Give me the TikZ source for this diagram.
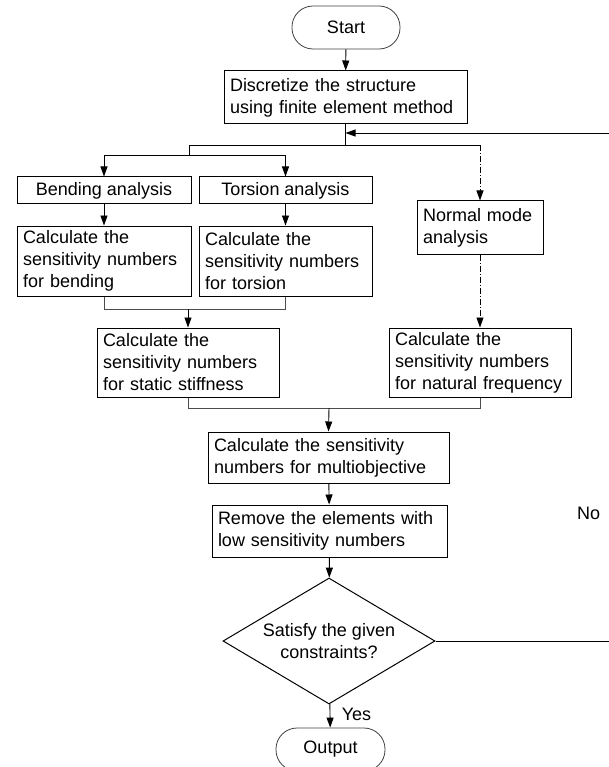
\documentclass[tikz,border=0pt]{standalone}
\usepackage{fontspec}
\setmainfont{Liberation Sans}
\usetikzlibrary{shapes.geometric,arrows.meta,calc}
\begin{document}
\begin{tikzpicture}[x=1pt,y=-1pt,
  every node/.style={font=\fontsize{18}{22}\selectfont},
  box/.style={draw, line width=1pt, inner xsep=6pt, inner ysep=2pt, align=left},
  cbox/.style={draw, line width=1pt, align=center, inner sep=0pt},
  term/.style={draw=black!75, line width=0.8pt, rounded corners=21pt, inner sep=0pt},
  dec/.style={draw, line width=1pt, shape=diamond, aspect=1.68, inner sep=0pt, align=center},
  conn/.style={line width=0.9pt},
  arr/.style={conn, -{Triangle[length=10pt,width=7pt]}},
  dd/.style={dash pattern=on 6pt off 2pt on 1pt off 2pt},
]
\useasboundingbox (0,0) rectangle (608,767);

\node[term, minimum width=108pt, minimum height=43pt] (start) at (346,27.5) {Start};
\node[box, text width=231pt, minimum height=53pt] (disc) at (345.5,97.5) {Discretize the structure\\using finite element method};
\node[cbox, minimum width=174pt, minimum height=27pt] (bend) at (104,190.5) {Bending analysis};
\node[cbox, minimum width=173pt, minimum height=27pt] (tors) at (285.5,190.5) {Torsion analysis};
\node[box, text width=114pt, minimum height=53pt] (normal) at (480,227.5) {Normal mode\\analysis};
\node[box, text width=162pt, minimum height=70pt] (cbend) at (104,261) {Calculate the\\sensitivity numbers\\for bending};
\node[box, text width=161pt, minimum height=70pt] (ctors) at (285.5,261) {Calculate the\\sensitivity numbers\\for torsion};
\node[box, text width=170pt, minimum height=69pt] (static) at (188,362.5) {Calculate the\\sensitivity numbers\\for static stiffness};
\node[box, text width=170pt, minimum height=69pt] (nat) at (480,362.5) {Calculate the\\sensitivity numbers\\for natural frequency};
\node[box, text width=229pt, minimum height=51pt] (multi) at (328.5,457.5) {Calculate the sensitivity\\numbers for multiobjective};
\node[box, text width=223pt, minimum height=52pt] (remove) at (329.5,531) {Remove the elements with\\low sensitivity numbers};
\node[dec, minimum width=212pt, minimum height=126pt] (dia) at (329,641) {Satisfy the given\\constraints?};
\node[term, minimum width=109pt, minimum height=43pt] (out) at (330.5,749.5) {Output};
\node (yes) at (356.5,714) {Yes};
\node (no) at (588.5,513) {No};

\coordinate (j0) at (345.5,145);
\coordinate (jl) at (189,145);
\coordinate (jl2) at (189,155);
\coordinate (fb) at (345.5,133);
\coordinate (r1) at (614,641);
\coordinate (r2) at (614,133);
\coordinate (m1) at (188,309);
\coordinate (m2) at (329,408);

\draw[arr] (start) -- (disc);
\draw[conn] (disc.south) -- (j0);
\draw[conn] (jl) -- (normal.north |- jl);
\draw[arr, dd] (normal.north |- jl) -- (normal.north);
\draw[conn] (jl) -- (jl2);
\draw[arr] (jl2) -| (bend.north);
\draw[arr] (jl2) -| (tors.north);
\draw[arr] (bend) -- (cbend);
\draw[arr] (tors) -- (ctors);
\draw[conn, draw=black!70] (cbend.south) |- (ctors.south |- m1) -- (ctors.south);
\draw[arr] (m1) -- (static.north);
\draw[arr, dd] (normal) -- (nat);
\draw[conn, draw=black!70] (static.south) |- (nat.south |- m2) -- (nat.south);
\draw[arr] (m2) -- (multi.north);
\draw[arr] (multi) -- (remove);
\draw[arr] (remove) -- (dia);
\draw[arr] (dia) -- (out);
\draw[conn] (dia.east) -- (r1) -- (r2);
\draw[arr] (r2) -- (fb);
\end{tikzpicture}
\end{document}
